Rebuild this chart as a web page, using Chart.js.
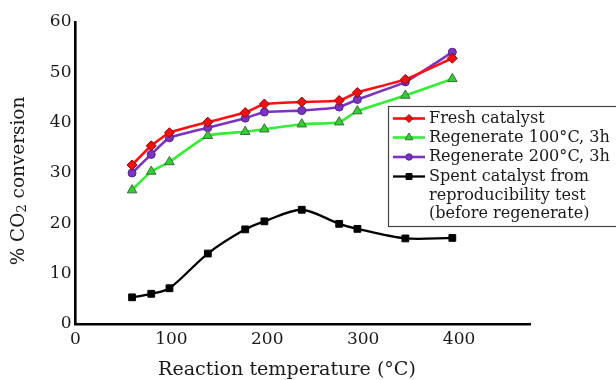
<!DOCTYPE html>
<html><head><meta charset="utf-8">
<script src="https://cdn.jsdelivr.net/npm/chart.js@4.4.0/dist/chart.umd.min.js"></script>
<style>html,body{margin:0;padding:0;background:#fff}#c{display:block}</style>
</head><body>
<canvas id="c" width="616" height="380"></canvas>
<script>
const temperatures = [59, 79, 98, 138, 177, 197, 236, 275, 294, 344, 393];
const freshCatalyst = [31.6, 35.4, 38.0, 40.1, 42.0, 43.7, 44.1, 44.4, 46.0, 48.6, 52.8];
const regen100 = [26.6, 30.3, 32.2, 37.4, 38.2, 38.7, 39.7, 40.1, 42.3, 45.4, 48.7];
const regen200 = [30.0, 33.7, 37.0, 39.0, 40.9, 42.1, 42.4, 43.1, 44.6, 48.1, 54.0];
const spentCatalyst = [5.3, 6.0, 7.1, 14.0, 18.8, 20.4, 22.7, 19.9, 18.9, 17.0, 17.1];
const xTicks = [0, 100, 200, 300, 400];
const yTicks = [0, 10, 20, 30, 40, 50, 60];
const seriesNames = [["Fresh catalyst"], ["Regenerate 100°C, 3h"], ["Regenerate 200°C, 3h"],
  ["Spent catalyst from", "reproducibility test", "(before regenerate)"]];
const xTitle = "Reaction temperature (°C)";
const yTitleParts = ["% CO", "2", " conversion"];

const FAM = "'DejaVu Serif', serif";
function pts(ys){ return temperatures.map((t,i)=>({x:t, y:ys[i]})); }

const styles = [
  {line:'#ff1010', fill:'#ee1111', border:'#a00000', ps:'rectRot', r:5, lr:4, bw:2.6, t:0.15},
  {line:'#33ee33', fill:'#2fd02f', border:'#3d6b3d', ps:'triangle', r:5.5, lr:4.5, bw:2.6, t:0.15},
  {line:'#7a33c2', fill:'#7a33c2', border:'#55208f', ps:'circle', r:4, lr:3.2, bw:2.6, t:0.15},
  {line:'#000000', fill:'#000000', border:'#000000', ps:'rect', r:4.8, lr:4.2, bw:2.3, t:0.3}
];
const series = [freshCatalyst, regen100, regen200, spentCatalyst];

const datasets = series.map((s,i)=>({
  label: seriesNames[i].join(' '),
  data: pts(s),
  borderColor: styles[i].line,
  borderWidth: styles[i].bw,
  backgroundColor: styles[i].fill,
  pointStyle: styles[i].ps,
  pointRadius: styles[i].r,
  pointBackgroundColor: styles[i].fill,
  pointBorderColor: styles[i].border,
  pointBorderWidth: 1,
  tension: styles[i].t,
  fill: false
}));

function fitSize(ctx, text, target, base){
  ctx.font = base + 'px ' + FAM;
  return base * target / ctx.measureText(text).width;
}

function drawMarker(ctx, st, x, y, r){
  ctx.save();
  ctx.fillStyle = st.fill; ctx.strokeStyle = st.border; ctx.lineWidth = 1;
  if (Chart.helpers && Chart.helpers.drawPoint) {
    Chart.helpers.drawPoint(ctx, {pointStyle: st.ps, radius: r, rotation: 0, borderWidth: 1}, x, y);
  }
  ctx.restore();
}

const decor = {
  id: 'decor',
  afterDraw(chart){
    const ctx = chart.ctx;
    ctx.save();
    let fs = fitSize(ctx, xTitle, 258, 16);
    ctx.font = fs + 'px ' + FAM;
    ctx.fillStyle = '#1a1a1a';
    ctx.textAlign = 'center'; ctx.textBaseline = 'middle';
    ctx.fillText(xTitle, 287, 370);
    const full = yTitleParts[0] + yTitleParts[1] + yTitleParts[2];
    fs = fitSize(ctx, full, 172, 16);
    const subFs = fs * 0.72;
    ctx.font = fs + 'px ' + FAM;
    const w1 = ctx.measureText(yTitleParts[0]).width;
    const w3 = ctx.measureText(yTitleParts[2]).width;
    ctx.font = subFs + 'px ' + FAM;
    const w2 = ctx.measureText(yTitleParts[1]).width;
    const tot = w1 + w2 + w3;
    ctx.translate(19, 181);
    ctx.rotate(-Math.PI/2);
    ctx.textAlign = 'left'; ctx.textBaseline = 'middle';
    let xx = -tot/2;
    ctx.font = fs + 'px ' + FAM;
    ctx.fillText(yTitleParts[0], xx, 0); xx += w1;
    ctx.font = subFs + 'px ' + FAM;
    ctx.fillText(yTitleParts[1], xx, 4); xx += w2;
    ctx.font = fs + 'px ' + FAM;
    ctx.fillText(yTitleParts[2], xx, 0);
    ctx.restore();

    ctx.save();
    ctx.fillStyle = '#fff';
    ctx.fillRect(388.5, 106.5, 240, 120);
    ctx.strokeStyle = '#444'; ctx.lineWidth = 1.2;
    ctx.strokeRect(388.5, 106.5, 240, 120);
    const rows = [118.5, 137.5, 157, 176.5, 195.5, 214];
    const lfs = fitSize(ctx, seriesNames[1][0], 181, 15);
    ctx.font = lfs + 'px ' + FAM;
    ctx.textAlign = 'left'; ctx.textBaseline = 'middle';
    let row = 0;
    seriesNames.forEach((lines, i)=>{
      const st = styles[i];
      const y = rows[row];
      ctx.strokeStyle = st.line; ctx.lineWidth = st.bw;
      ctx.beginPath(); ctx.moveTo(393, y); ctx.lineTo(425, y); ctx.stroke();
      drawMarker(ctx, st, 409, y, st.lr);
      ctx.fillStyle = '#1a1a1a';
      lines.forEach(t=>{ ctx.fillText(t, 429, rows[row]); row++; });
    });
    ctx.restore();
  }
};

new Chart(document.getElementById('c'), {
  type: 'line',
  data: { datasets },
  options: {
    responsive: false, animation: false,
    layout: { padding: { top: 22, right: 86, left: 0, bottom: 0 } },
    plugins: { legend: { display: false }, tooltip: { enabled: false } },
    scales: {
      x: {
        type: 'linear', min: 0, max: 474,
        grid: { display: false, drawTicks: false },
        border: { display: true, color: '#000', width: 2.6 },
        afterBuildTicks: s => { s.ticks = xTicks.map(v => ({ value: v })); },
        ticks: { padding: 5, font: { family: FAM, size: 17 }, color: '#1a1a1a', maxRotation: 0, autoSkip: false },
        afterFit: s => { s.height = 56; }
      },
      y: {
        type: 'linear', min: 0, max: 60,
        grid: { display: false, drawTicks: false },
        border: { display: true, color: '#000', width: 2.6 },
        afterBuildTicks: s => { s.ticks = yTicks.map(v => ({ value: v })); },
        ticks: { padding: 4, font: { family: FAM, size: 17 }, color: '#1a1a1a', autoSkip: false },
        afterFit: s => { s.width = 75.5; }
      }
    }
  },
  plugins: [decor]
});
</script>
</body></html>
